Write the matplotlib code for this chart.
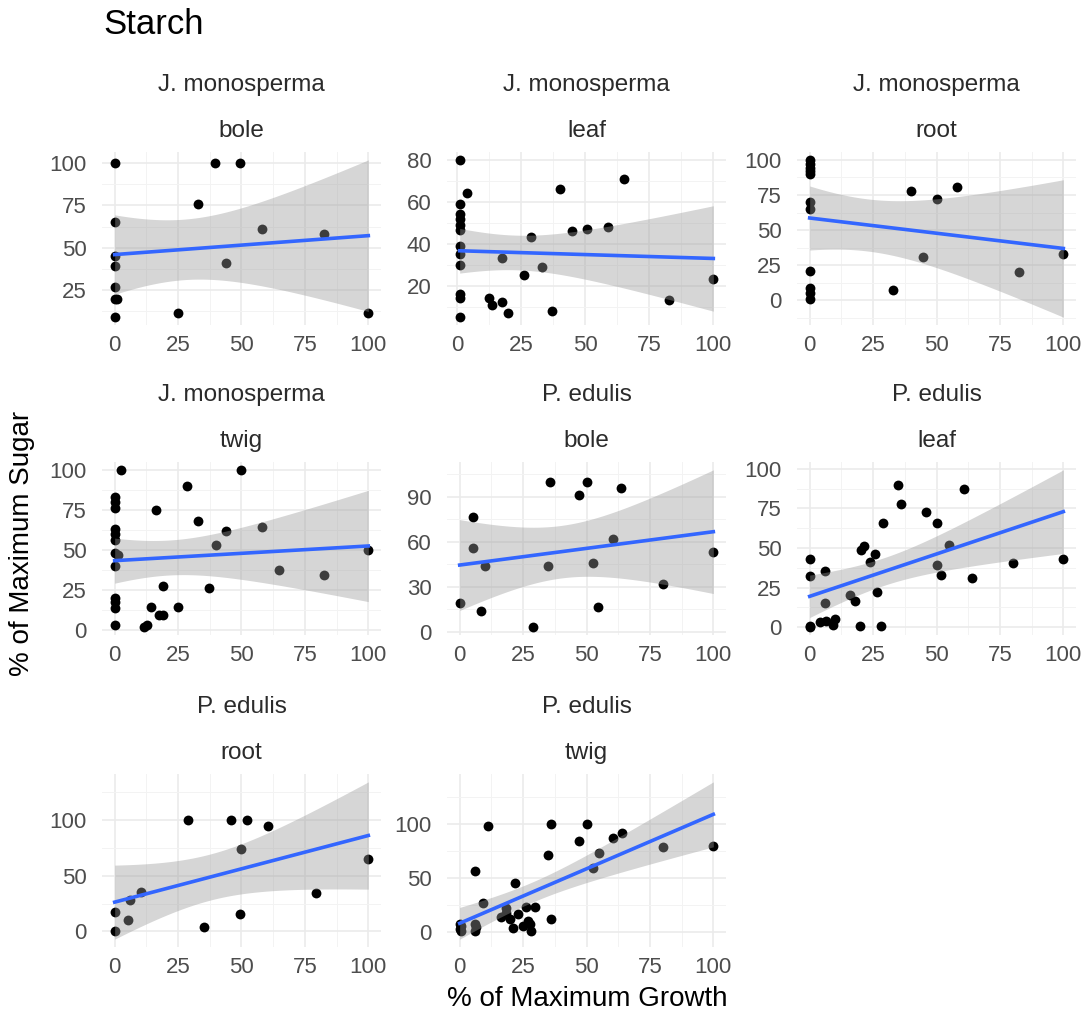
import matplotlib
matplotlib.use('Agg')
import matplotlib.pyplot as plt
from matplotlib.ticker import FixedLocator
import numpy as np

plt.rcParams['font.family'] = ['Liberation Sans', 'DejaVu Sans']

species = ['J. monosperma', 'J. monosperma', 'J. monosperma', 'J. monosperma',
           'P. edulis', 'P. edulis', 'P. edulis', 'P. edulis']
tissues = ['bole', 'leaf', 'root', 'twig', 'bole', 'leaf', 'root', 'twig']

# % of maximum growth / % of maximum sugar, one pair per facet
jm_bole_x = [0, 39.5, 49.6, 33, 0, 58, 82.5, 0, 0, 44, 0, 0, 1, 0, 25, 100]
jm_bole_y = [100, 100, 100, 76, 65, 61, 58, 45, 39, 41, 27, 20, 20, 9, 11.5, 11.5]

jm_leaf_x = [1, 3.7, 1, 1, 1, 1, 1, 1, 1, 1, 1, 1, 1, 17.6, 12.4, 13.7, 17.6, 20,
             26, 29, 33, 37, 40, 45, 50.6, 59, 65, 82.6, 100]
jm_leaf_y = [80, 64, 59, 54, 51.7, 49, 46.7, 39, 35, 30, 16, 14, 5, 33, 14, 11, 12, 7,
             25, 43, 29, 8, 66, 46, 47, 48, 71, 13, 23]

jm_root_x = [0, 0, 0, 0, 0, 0, 0, 0, 0, 0, 0, 33, 40, 50, 58, 44.5, 82.6, 100]
jm_root_y = [100, 97, 94, 92, 90, 70, 65, 21, 9, 5, 1, 7.5, 78, 72, 81, 30.5, 20, 33]

jm_twig_x = [2.5, 50, 28.5, 0, 0, 0, 16.4, 33, 44, 58, 0, 0, 0, 0, 1.5, 0, 40,
             64.6, 82.7, 100, 19, 37, 0, 0, 0, 14.4, 25, 17.3, 19.2, 11.4, 12.7, 0]
jm_twig_y = [100, 100, 90, 83, 80, 76, 75, 68, 62, 64, 63, 60, 56, 48, 46.5, 40, 53,
             37, 34, 50, 27, 26, 20, 17, 13.5, 14, 14, 9, 9, 1.5, 3, 3]

pe_bole_x = [0, 5.3, 5.3, 10, 8.6, 29, 35, 35.8, 47, 50, 52.7, 54.5, 60.4, 63.7, 80, 100]
pe_bole_y = [19, 76.5, 56, 43.6, 13.5, 3, 43.6, 100, 91, 100, 46, 16.4, 62, 95.6, 32, 53]

pe_leaf_x = [0, 0, 0, 0, 6, 6, 4, 6.6, 9, 10, 16, 17.8, 20, 20.2, 21.5, 23.8, 25.8,
             26.4, 28, 28.8, 35, 36, 46, 50, 50, 51.8, 54.8, 60.8, 63.8, 80.3, 100]
pe_leaf_y = [43, 32, 1, 0, 35.5, 15, 3, 4, 1.5, 5, 20, 16.7, 0.5, 48.5, 51, 41, 46,
             22, 0.5, 65.5, 90, 78, 72.7, 66, 39, 32.7, 51.8, 87, 31, 40.7, 43]

pe_root_x = [0, 0, 5.2, 6.2, 10.5, 29, 35.4, 46, 52, 50, 49.5, 60.5, 79.4, 100]
pe_root_y = [0.5, 17.8, 10.6, 28, 35.6, 100, 4.4, 100, 100, 74, 15.6, 94, 34, 65]

pe_twig_x = [0, 0, 0.7, 0.7, 6, 6, 6.6, 6, 9, 11, 16.4, 18.4, 19.7, 18.4, 21.7, 21,
             23, 25, 26, 27, 27.6, 28.3, 29.6, 35, 35.9, 36, 47, 50, 52.6, 54.9,
             60.5, 63.8, 80, 100]
pe_twig_y = [7, 2, 5, 0.7, 7, 0.6, 4, 56, 26.6, 98, 13.6, 17, 12, 22, 45, 3,
             16, 5.5, 22.7, 10, 7, 0.6, 22.7, 71, 100, 12, 84, 100, 59, 73,
             86.7, 91.5, 78.6, 80]

panel_x = [jm_bole_x, jm_leaf_x, jm_root_x, jm_twig_x, pe_bole_x, pe_leaf_x, pe_root_x, pe_twig_x]
panel_y = [jm_bole_y, jm_leaf_y, jm_root_y, jm_twig_y, pe_bole_y, pe_leaf_y, pe_root_y, pe_twig_y]

x_breaks = [0, 25, 50, 75, 100]
y_breaks = [[25, 50, 75, 100], [0, 20, 40, 60, 80], [0, 25, 50, 75, 100],
            [0, 25, 50, 75, 100], [0, 30, 60, 90], [0, 25, 50, 75, 100],
            [0, 50, 100], [0, 50, 100]]


def t_quantile(df, z=1.959964):
    """Two-sided 95% t quantile (Cornish-Fisher expansion)."""
    return (z + (z**3 + z) / (4 * df)
            + (5 * z**5 + 16 * z**3 + 3 * z) / (96 * df**2)
            + (3 * z**7 + 19 * z**5 + 17 * z**3 - 15 * z) / (384 * df**3))


def lm_fit(x, y, n=80):
    x = np.asarray(x, float)
    y = np.asarray(y, float)
    b, a = np.polyfit(x, y, 1)
    resid = y - (a + b * x)
    dof = len(x) - 2
    s = np.sqrt(np.sum(resid**2) / dof)
    xs = np.linspace(x.min(), x.max(), n)
    se = s * np.sqrt(1 / len(x) + (xs - x.mean())**2 / np.sum((x - x.mean())**2))
    fit = a + b * xs
    t = t_quantile(dof)
    return xs, fit, fit - t * se, fit + t * se


def minor_breaks(major):
    step = major[1] - major[0]
    return [major[0] - step / 2] + [v + step / 2 for v in major]


W, H = 1085, 1014
fig = plt.figure(figsize=(W / 100, H / 100), dpi=100)

col_left = [102, 447, 797]
row_top = [152, 462, 774]
pw, ph = 279, 173

for i in range(8):
    r, c = divmod(i, 3)
    ax = fig.add_axes([col_left[c] / W, 1 - (row_top[r] + ph) / H, pw / W, ph / H])
    ax.scatter(panel_x[i], panel_y[i], s=50, color='black', linewidths=0, zorder=2)
    xs, fit, lo, hi = lm_fit(panel_x[i], panel_y[i])
    # ribbon drawn over the points, like geom_smooth
    ax.fill_between(xs, lo, hi, color='#999999', alpha=0.4, linewidth=0, zorder=3)
    ax.plot(xs, fit, color='#3366FF', linewidth=2.6, zorder=4)
    ax.margins(x=0.05, y=0.05)

    ax.xaxis.set_major_locator(FixedLocator(x_breaks))
    ax.xaxis.set_minor_locator(FixedLocator(minor_breaks(x_breaks)))
    ax.yaxis.set_major_locator(FixedLocator(y_breaks[i]))
    ax.yaxis.set_minor_locator(FixedLocator(minor_breaks(y_breaks[i])))
    ax.grid(which='major', color='#EBEBEB', linewidth=1.2, zorder=0)
    ax.grid(which='minor', color='#F3F3F3', linewidth=0.7, zorder=0)
    ax.set_axisbelow(True)
    for sp in ax.spines.values():
        sp.set_visible(False)
    ax.tick_params(which='both', length=0, labelsize=16, colors='#4D4D4D')
    ax.tick_params(axis='y', pad=11)
    ax.tick_params(axis='x', pad=7)

    ax.text(0.5, 1 + 67 / ph, species[i], transform=ax.transAxes, ha='center',
            va='center', fontsize=17.5, color='#2B2B2B')
    ax.text(0.5, 1 + 21 / ph, tissues[i], transform=ax.transAxes, ha='center',
            va='center', fontsize=17.5, color='#2B2B2B')

fig.text(103 / W, 1 - 25 / H, 'Starch', fontsize=25, ha='left', va='center')
fig.text(587 / W, 1 - 999 / H, '% of Maximum Growth', fontsize=20, ha='center', va='center')
fig.text(22 / W, 1 - 543 / H, '% of Maximum Sugar', fontsize=20, ha='center', va='center',
         rotation=90)

fig.savefig('out.png', dpi=100, facecolor='white')
